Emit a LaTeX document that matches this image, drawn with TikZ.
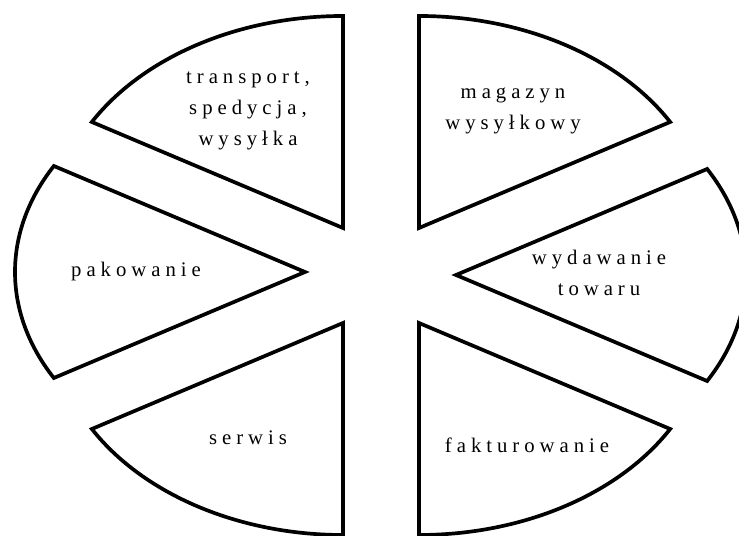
\documentclass[tikz,border=0pt]{standalone}
\usepackage{fontspec}
\setmainfont{Liberation Serif}
\usepackage{tikz}

\tikzset{
  slice/.style={draw=black, line width=2.1pt, line join=miter, fill=white},
  label/.style={align=center, font=\fontsize{11.8}{17.5}\selectfont\addfontfeature{LetterSpace=24}}
}

\begin{document}
\begin{tikzpicture}[x=0.02cm, y=0.02cm]
        \useasboundingbox (0,0) rectangle (739,536);
        \draw[slice] (343,308) -- ++({290*cos(150)},{212*sin(150)})
              arc[start angle=150, end angle=90, x radius=290, y radius=212] -- cycle;   % top left
        \draw[slice] (419,308) -- ++({290*cos(30)},{212*sin(30)})
              arc[start angle=30, end angle=90, x radius=290, y radius=212] -- cycle;    % top right
        \draw[slice] (305,264) -- ++({290*cos(150)},{212*sin(150)})
              arc[start angle=150, end angle=210, x radius=290, y radius=212] -- cycle;  % left
        \draw[slice] (456,261) -- ++({290*cos(30)},{212*sin(30)})
              arc[start angle=30, end angle=-30, x radius=290, y radius=212] -- cycle;   % right
        \draw[slice] (343,213) -- ++({290*cos(210)},{212*sin(210)})
              arc[start angle=210, end angle=270, x radius=290, y radius=212] -- cycle;  % bottom left
        \draw[slice] (419,213) -- ++({290*cos(-30)},{212*sin(-30)})
              arc[start angle=-30, end angle=-90, x radius=290, y radius=212] -- cycle;  % bottom right
        % Labels
        \node[label] (transport) at (248,425) {transport,\\spedycja,\\wysyłka};
        \node[label] (magazyn) at (513,425) {magazyn\\wysyłkowy};
        \node[label] (pakowanie) at (136,264) {pakowanie};
        \node[label] (wydawanie) at (599,263) {wydawanie\\towaru};
        \node[label] (serwis) at (248,98) {serwis};
        \node[label] (fakturowanie) at (527,91) {fakturowanie};
\end{tikzpicture}
\end{document}
